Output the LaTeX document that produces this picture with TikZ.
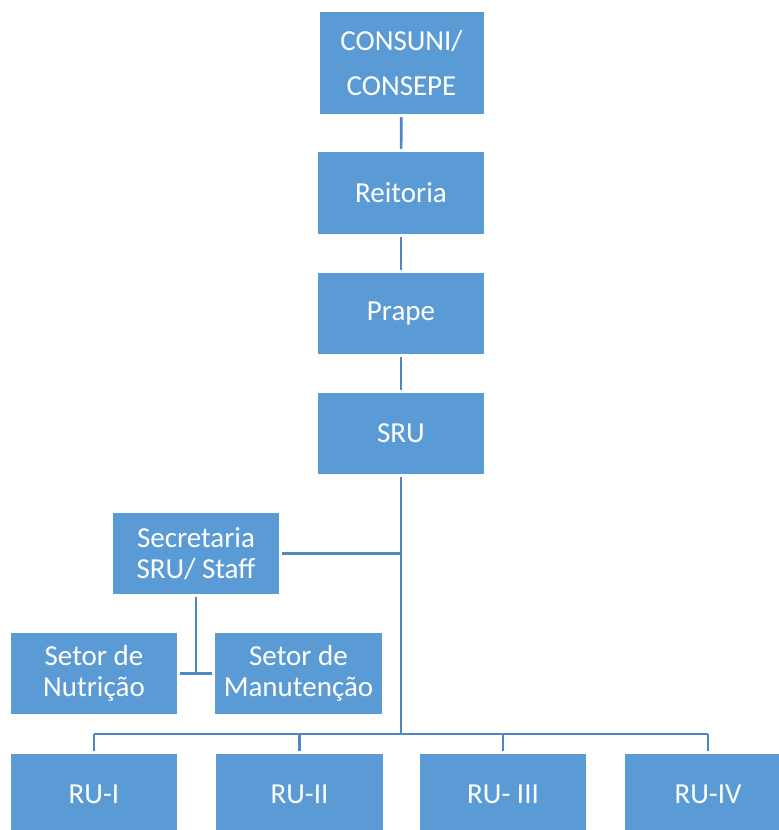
\documentclass[tikz,border=0pt]{standalone}
\usepackage{fontspec}
\setmainfont{Carlito}
\definecolor{boxblue}{HTML}{5B9BD5}
\definecolor{lineblue}{HTML}{4F87C4}
\begin{document}
\begin{tikzpicture}[x=1pt,y=-1pt,
  unit/.style={fill=boxblue, draw=none, text=white, align=center,
    inner sep=0pt, font=\fontsize{29}{31}\selectfont},
  link/.style={draw=lineblue, line width=2.6pt},
  gapped/.style={link, shorten <=3pt, shorten >=3pt}]
\useasboundingbox (0,0) rectangle (779,830);
\clip (0,0) rectangle (779,830);

% top chain of units
\node[unit, minimum width=164, minimum height=102] (consuni) at (401.5,63) {CONSUNI/\\[14pt]CONSEPE};
\node[unit, minimum width=166, minimum height=82] (reitoria) at (401,193) {Reitoria};
\node[unit, minimum width=166, minimum height=81] (prape) at (401,313.5) {Prape};
\node[unit, minimum width=166, minimum height=81] (sru) at (401,433.5) {SRU};

% staff and sectors
\node[unit, minimum width=166, minimum height=81] (sec) at (196,553.5) {Secretaria\\SRU/ Staff};
\node[unit, minimum width=166, minimum height=81] (nutri) at (94,673.5) {Setor de\\Nutrição};
\node[unit, minimum width=167, minimum height=81] (manut) at (298.5,673.5) {Setor de\\Manutenção};

% restaurant units
\node[unit, minimum width=166, minimum height=81] (ru1) at (94,794) {RU-I};
\node[unit, minimum width=167, minimum height=81] (ru2) at (299.5,794) {RU-II};
\node[unit, minimum width=166, minimum height=81] (ru3) at (503,794) {RU- III};
\node[unit, minimum width=166, minimum height=81] (ru4) at (708,794) {RU-IV};

% vertical chain
\draw[gapped] (consuni) -- (reitoria);
\draw[gapped] (reitoria) -- (prape);
\draw[gapped] (prape) -- (sru);

% trunk from SRU down to the bus
\coordinate (bus) at (sru.south |- 0,734);
\draw[link, shorten <=3pt] (sru.south) -- (bus);
\draw[link, shorten <=3pt] (sec.east) -- (sec.east -| sru.south);

% staff to sectors
\coordinate (tee) at (sec.south |- nutri.east);
\draw[link, shorten <=3pt] (sec.south) -- (tee);
\draw[link, shorten <=3pt, shorten >=3pt] (nutri.east) -- (manut.west);

% bus to restaurant units
\draw[link] (ru1.north |- bus) -- (ru4.north |- bus);
\foreach \u in {ru1,ru2,ru3,ru4}
  \draw[link, shorten >=2pt] (\u.north |- bus) -- (\u.north);
\end{tikzpicture}
\end{document}
